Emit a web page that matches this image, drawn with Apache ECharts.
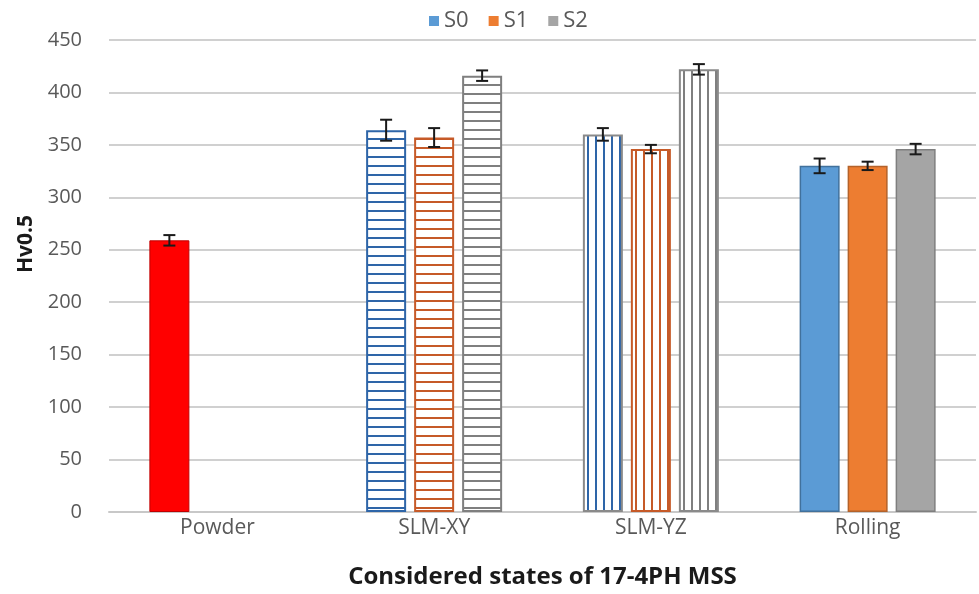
<!DOCTYPE html>
<html><head><meta charset="utf-8">
<script src="https://cdn.jsdelivr.net/npm/echarts@6/dist/echarts.min.js"></script>
<style>html,body{margin:0;padding:0;background:#fff}#c{width:979px;height:594px}</style>
</head><body><div id="c"></div>
<script>
var categories = ['Powder', 'SLM-XY', 'SLM-YZ', 'Rolling'];
var seriesNames = ['S0', 'S1', 'S2'];
var s0 = [259, 364, 360, 330];
var s1 = [null, 357, 346, 330];
var s2 = [null, 416, 422, 346];
var e0 = [5, 10, 6, 7];
var e1 = [null, 9, 4, 4];
var e2 = [null, 5, 5, 5];
var yTicks = [0, 50, 100, 150, 200, 250, 300, 350, 400, 450];

var FONT = '"Open Sans"';
var solid = ['#5B9BD5', '#ED7D31', '#A5A5A5'];
var solidBorder = ['#41719C', '#B4622A', '#7F7F7F'];
var stripe = ['#2E65A8', '#C65A28', '#7F7F7F'];
var yzBorder = ['#8A8A8A', '#C65A28', '#8A8A8A'];

function pattern(color, vertical) {
  var cv = document.createElement('canvas');
  if (vertical) { cv.width = 8; cv.height = 8; } else { cv.width = 8; cv.height = 9; }
  var g = cv.getContext('2d');
  g.fillStyle = '#fff'; g.fillRect(0, 0, cv.width, cv.height);
  g.fillStyle = color;
  if (vertical) { g.fillRect(3, 0, 2, 8); }
  else { g.fillRect(0, 3, 8, 2); }
  return { image: cv, repeat: 'repeat' };
}

var vals = [s0, s1, s2];
var errs = [e0, e1, e2];

function itemsFor(si) {
  return vals[si].map(function (v, ci) {
    if (v == null) return { value: null };
    var st;
    if (ci === 0) st = { color: '#FF0000', borderColor: '#C00000', borderWidth: 1 };
    else if (ci === 1) st = { color: pattern(stripe[si], false), borderColor: stripe[si], borderWidth: 2 };
    else if (ci === 2) st = { color: pattern(stripe[si], true), borderColor: yzBorder[si], borderWidth: 2 };
    else st = { color: solid[si], borderColor: solidBorder[si], borderWidth: 1.5 };
    return { value: v, itemStyle: st };
  });
}

var series = [];
seriesNames.forEach(function (n, si) {
  series.push({
    name: n, type: 'bar', barWidth: 40, barGap: '20%',
    itemStyle: { color: solid[si] },
    data: itemsFor(si)
  });
});
seriesNames.forEach(function (n, si) {
  series.push({
    type: 'custom', name: n + ' err', silent: true, z: 10,
    data: vals[si].map(function (v, ci) { return v == null ? [ci, null, null] : [ci, v, errs[si][ci]]; }),
    encode: { x: 0, y: 1 },
    renderItem: function (params, api) {
      var v = api.value(1), e = api.value(2);
      if (v == null || isNaN(v)) return;
      var off = 48 * (si - 1);
      var top = api.coord([api.value(0), v + e]);
      var bot = api.coord([api.value(0), v - e]);
      var x = top[0] + off, hw = 6;
      var st = { stroke: '#1a1a1a', lineWidth: 2 };
      return { type: 'group', children: [
        { type: 'line', shape: { x1: x, y1: top[1], x2: x, y2: bot[1] }, style: st },
        { type: 'line', shape: { x1: x - hw, y1: top[1], x2: x + hw, y2: top[1] }, style: st },
        { type: 'line', shape: { x1: x - hw, y1: bot[1], x2: x + hw, y2: bot[1] }, style: st }
      ]};
    }
  });
});

var chart = echarts.init(document.getElementById('c'), null, { renderer: 'canvas' });
chart.setOption({
  animation: false,
  backgroundColor: '#fff',
  legend: {
    data: seriesNames, top: 5, left: 424,
    itemWidth: 10, itemHeight: 10, itemGap: 20, icon: 'rect',
    textStyle: { fontFamily: FONT, fontSize: 22, color: '#595959' }
  },
  grid: { left: 109, right: 3, top: 40, bottom: 82 },
  xAxis: {
    type: 'category', data: categories,
    axisTick: { show: false },
    axisLine: { lineStyle: { color: '#C8C8C8', width: 2 } },
    axisLabel: { fontFamily: FONT, fontSize: 21, color: '#595959', margin: 6 },
    name: 'Considered states of 17-4PH MSS', nameLocation: 'middle', nameGap: 53,
    nameTextStyle: { fontFamily: FONT, fontSize: 24, fontWeight: 'bold', color: '#1a1a1a' }
  },
  yAxis: {
    type: 'value', min: yTicks[0], max: yTicks[yTicks.length - 1], interval: 50,
    axisLine: { show: false }, axisTick: { show: false },
    splitLine: { lineStyle: { color: '#D0D0D0', width: 2 } },
    axisLabel: { fontFamily: FONT, fontSize: 20, color: '#595959', margin: 27 },
    name: 'Hv0.5', nameLocation: 'middle', nameGap: 70,
    nameTextStyle: { fontFamily: FONT, fontSize: 21, fontWeight: 'bold', color: '#1a1a1a', padding: [0, 0, 0, 64] }
  },
  series: series
});
</script></body></html>
